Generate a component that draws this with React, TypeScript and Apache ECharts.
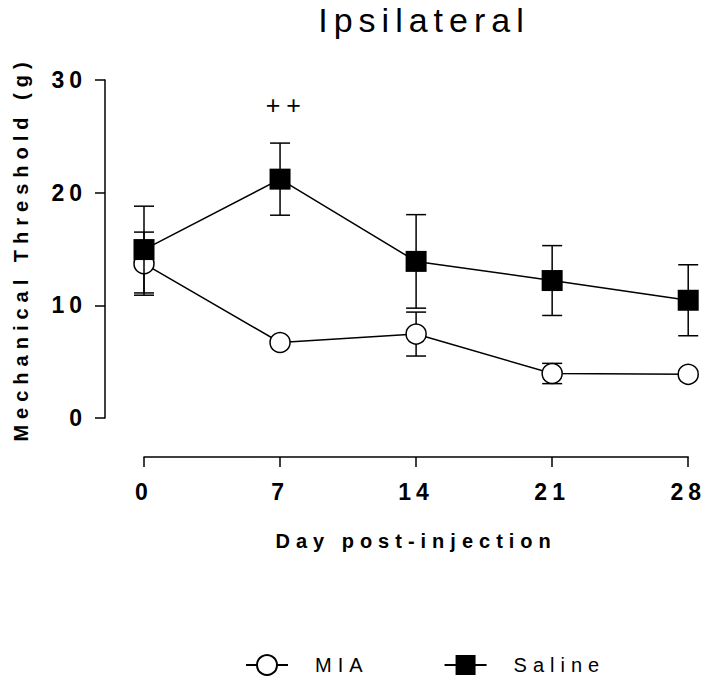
import React, { useEffect, useRef } from "react";
import * as echarts from "echarts";

const days = [0, 7, 14, 21, 28];
const miaMean = [13.7, 6.7, 7.45, 3.95, 3.88];
const miaSem = [2.8, 0.3, 1.95, 0.9, 0.3];
const salineMean = [14.95, 21.2, 13.9, 12.2, 10.45];
const salineSem = [3.85, 3.2, 4.15, 3.1, 3.15];
const yTicks = [0, 10, 20, 30];
const xTicks = [0, 7, 14, 21, 28];
const annotation = { day: 7.32, value: 27.8, text: "++" };

const FONT = "'Liberation Sans', Arial, Helvetica, sans-serif";

function errorSeries(name: string, mean: number[], sem: number[], z: number) {
  return {
    type: "custom",
    name: name + " SEM",
    z,
    silent: true,
    data: days.map((d, i) => [d, mean[i], sem[i]]),
    renderItem: (params: any, api: any) => {
      const x = api.value(0);
      const m = api.value(1);
      const e = api.value(2);
      const top = api.coord([x, m + e]);
      const bot = api.coord([x, m - e]);
      const hw = 10;
      const style = { stroke: "#000", lineWidth: 1.5, fill: "none" };
      return {
        type: "group",
        children: [
          { type: "line", shape: { x1: top[0], y1: top[1], x2: bot[0], y2: bot[1] }, style },
          { type: "line", shape: { x1: top[0] - hw, y1: top[1], x2: top[0] + hw, y2: top[1] }, style },
          { type: "line", shape: { x1: bot[0] - hw, y1: bot[1], x2: bot[0] + hw, y2: bot[1] }, style },
        ],
      };
    },
  };
}

export default function App() {
  const ref = useRef<HTMLDivElement>(null);
  useEffect(() => {
    if (!ref.current) return;
    const chart = echarts.init(ref.current, undefined, { renderer: "svg" });
    const axisLine = { show: true, onZero: false, lineStyle: { color: "#000", width: 1.5 } };
    chart.setOption({
      animation: false,
      backgroundColor: "#fff",
      title: {
        text: "Ipsilateral",
        left: 424,
        top: 20,
        padding: 0,
        textAlign: "center",
        textVerticalAlign: "middle",
        textStyle: { fontFamily: FONT, fontSize: 34, fontWeight: "normal", color: "#000" },
      },
      grid: { left: 144, right: 14, top: 80, bottom: 261 },
      xAxis: {
        type: "value",
        min: 0,
        max: 28,
        interval: 7,
        offset: 39,
        name: "Day post-injection",
        nameLocation: "middle",
        nameGap: 74,
        nameTextStyle: { fontFamily: FONT, fontSize: 20, fontWeight: "bold", color: "#000" },
        axisLine,
        axisTick: { show: true, length: 10, lineStyle: { color: "#000", width: 1.5 } },
        axisLabel: {
          margin: 23,
          fontFamily: FONT,
          fontSize: 23,
          fontWeight: "bold",
          color: "#000",
          formatter: (v: number) => (xTicks.includes(v) ? String(v) : ""),
        },
        splitLine: { show: false },
      },
      yAxis: {
        type: "value",
        min: 0,
        max: 30,
        interval: 10,
        offset: 39,
        name: "Mechanical Threshold (g)",
        nameLocation: "middle",
        nameGap: 74,
        nameTextStyle: { fontFamily: FONT, fontSize: 20, fontWeight: "bold", color: "#000" },
        axisLine,
        axisTick: { show: true, length: 10, lineStyle: { color: "#000", width: 1.5 } },
        axisLabel: {
          margin: 18,
          fontFamily: FONT,
          fontSize: 23,
          fontWeight: "bold",
          color: "#000",
          formatter: (v: number) => (yTicks.includes(v) ? String(v) : ""),
        },
        splitLine: { show: false },
      },
      legend: {
        top: 654,
        left: 245,
        padding: 0,
        itemWidth: 42,
        itemHeight: 25,
        itemGap: 93,
        data: ["MIA", "Saline"],
        textStyle: { fontFamily: FONT, fontSize: 20, color: "#000", padding: [0, 0, 0, 22] },
      },
      series: [
        errorSeries("MIA", miaMean, miaSem, 1),
        {
          type: "line",
          name: "MIA",
          z: 2,
          data: days.map((d, i) => [d, miaMean[i]]),
          symbol: "circle",
          symbolSize: 20,
          showSymbol: true,
          lineStyle: { color: "#000", width: 1.5 },
          itemStyle: { color: "#fff", borderColor: "#000", borderWidth: 1.5 },
        },
        errorSeries("Saline", salineMean, salineSem, 3),
        {
          type: "line",
          name: "Saline",
          z: 4,
          data: days.map((d, i) => [d, salineMean[i]]),
          symbol: "rect",
          symbolSize: 21,
          lineStyle: { color: "#000", width: 1.5 },
          itemStyle: { color: "#000", borderColor: "#000", borderWidth: 0 },
          markPoint: {
            symbol: "rect",
            symbolSize: 0,
            data: [
              {
                coord: [annotation.day, annotation.value],
                label: {
                  show: true,
                  formatter: annotation.text,
                  fontFamily: FONT,
                  fontSize: 25,
                  color: "#000",
                  position: "inside",
                },
              },
            ],
          },
        },
      ],
    });
    return () => chart.dispose();
  }, []);
  return (
    <div>
      <style>{`
        #chartbox text { letter-spacing: 6px; }
        #chartbox text[style*="23px"] { letter-spacing: 5px; }
      `}</style>
      <div id="chartbox" ref={ref} style={{ width: 704, height: 679, position: "absolute", left: 0, top: 0 }} />
    </div>
  );
}
